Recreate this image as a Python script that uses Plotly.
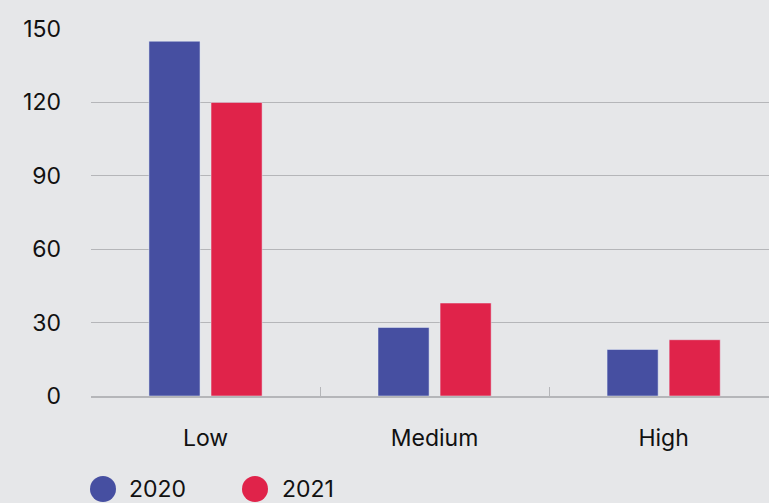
import plotly.graph_objects as go

categories = ["Low", "Medium", "High"]
values_2020 = [145, 28, 19]
values_2021 = [120, 38, 23]
y_ticks = [0, 30, 60, 90, 120, 150]
series_names = ["2020", "2021"]

BLUE = "#464fa1"
RED = "#e0234a"
BG = "#e6e7e9"
GRID = "#b5b6b9"
FONT = "Inter, Liberation Sans, Arial, sans-serif"

fig = go.Figure()
fig.add_trace(go.Bar(x=categories, y=values_2020, name=series_names[0], marker_color=BLUE))
fig.add_trace(go.Bar(x=categories, y=values_2021, name=series_names[1], marker_color=RED))

# legend with large circles, drawn in paper coordinates
W, H = 769, 503
ml, mr, mt, mb = 91, 0, 29, 107
pw, ph = W - ml - mr, H - mt - mb


def px_x(x):
    return (x - ml) / pw


def px_y(y):
    return (H - mb - y) / ph


for name, color, cx, tx in [(series_names[0], BLUE, 103, 127), (series_names[1], RED, 255, 280)]:
    cy = 489
    fig.add_shape(
        type="circle", xref="paper", yref="paper",
        x0=px_x(cx - 13), x1=px_x(cx + 13), y0=px_y(cy + 13), y1=px_y(cy - 13),
        fillcolor=color, line_width=0,
    )
    fig.add_annotation(
        text=name, xref="paper", yref="paper", x=px_x(tx), y=px_y(cy),
        xanchor="left", yanchor="middle", showarrow=False,
        font=dict(family=FONT, size=23, color="#111111"),
    )

fig.update_layout(
    width=W,
    height=H,
    paper_bgcolor=BG,
    plot_bgcolor=BG,
    barmode="group",
    bargap=0.458,
    bargroupgap=0.177,
    showlegend=False,
    font=dict(family=FONT, size=23, color="#111111"),
    margin=dict(l=ml, r=mr, t=mt, b=mb),
)
fig.update_xaxes(
    range=[-0.5, 2.46],
    tickson="boundaries",
    ticks="inside",
    ticklen=9,
    tickcolor=GRID,
    showline=True,
    linecolor=GRID,
    linewidth=1.5,
    showgrid=False,
    ticklabelstandoff=21,
)
fig.update_yaxes(
    range=[0, 150],
    tickvals=y_ticks,
    showgrid=True,
    gridcolor=GRID,
    gridwidth=1.2,
    zeroline=False,
    ticklabelstandoff=29,
)

fig.write_html(
    "out.html",
    config={"displayModeBar": False},
    post_script="document.body.style.margin='0';",
)
